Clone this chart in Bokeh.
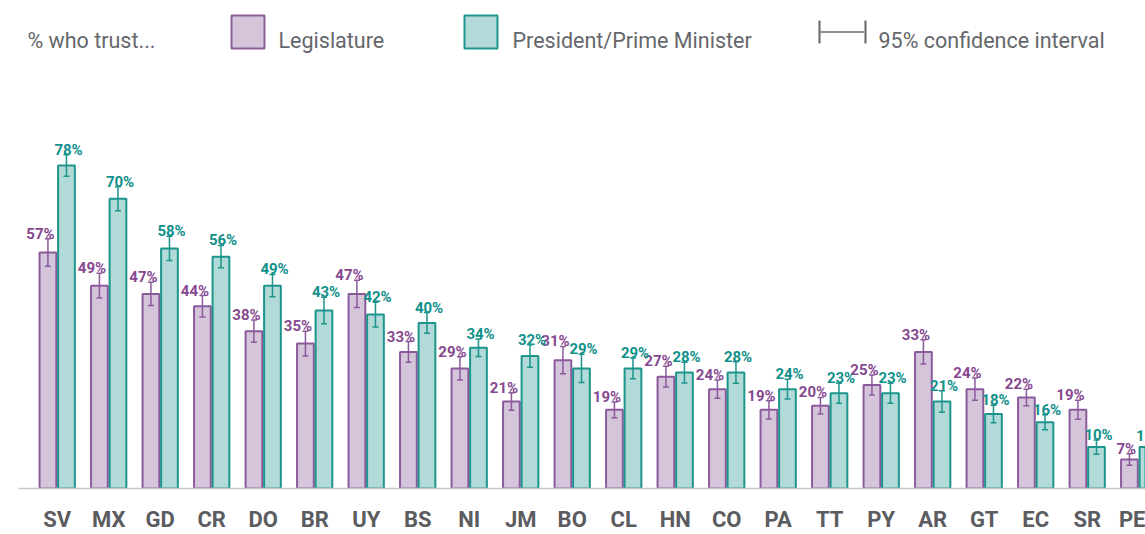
from bokeh.plotting import figure
from bokeh.models import Range1d, FixedTicker, ColumnDataSource, Whisker, TeeHead, Label, BoxAnnotation
from bokeh.embed import file_html
from bokeh.resources import INLINE
from bokeh.core.properties import value

# ---------------- data ----------------
countries = ["SV", "MX", "GD", "CR", "DO", "BR", "UY", "BS", "NI", "JM", "BO",
             "CL", "HN", "CO", "PA", "TT", "PY", "AR", "GT", "EC", "SR", "PE"]
legislature = [57, 49, 47, 44, 38, 35, 47, 33, 29, 21, 31,
               19, 27, 24, 19, 20, 25, 33, 24, 22, 19, 7]
president = [78, 70, 58, 56, 49, 43, 42, 40, 34, 32, 29,
             29, 28, 28, 24, 23, 23, 21, 18, 16, 10, 10]
ci_legislature = [3.3, 3.0, 2.8, 2.6, 2.7, 3.0, 3.3, 2.5, 2.8, 2.1, 3.3,
                  1.9, 2.5, 2.2, 2.2, 2.0, 2.4, 2.9, 2.7, 2.0, 2.3, 1.4]
ci_president = [2.6, 2.9, 2.9, 2.7, 2.7, 3.2, 3.0, 2.5, 2.1, 2.7, 3.4,
                2.5, 2.5, 2.6, 2.4, 2.4, 2.4, 2.6, 2.1, 1.8, 1.7, 1.5]
legend_title = "% who trust..."
legend_labels = ["Legislature", "President/Prime Minister", "95% confidence interval"]

# ---------------- style / layout ----------------
PURPLE_FILL, PURPLE_LINE, PURPLE_TEXT = "#d5c5da", "#8b5a9c", "#86488f"
TEAL_FILL, TEAL_LINE, TEAL_TEXT = "#b1dad8", "#1d948c", "#10908a"
GREY_TEXT = "#5b5c60"
LEGEND_TEXT = "#66676b"

W, H = 1145, 534
LEFT, BOTTOM = 18, 46
STEP = 51.5          # px per category
PX_PER_PCT = 4.14    # px per percentage point
FIRST_CENTER = 38.7  # px from frame left to first category centre
OFF = 0.18           # dodge of each bar from category centre
BAR_W = 0.325

x_start = -FIRST_CENTER / STEP
x_end = (W - LEFT - FIRST_CENTER) / STEP
y_end = (H - BOTTOM) / PX_PER_PCT


def px_x(cx):
    return (cx - LEFT - FIRST_CENTER) / STEP


def px_y(cy):
    return (H - BOTTOM - cy) / PX_PER_PCT


idx = list(range(len(countries)))
src = ColumnDataSource(dict(
    x_leg=[i - OFF for i in idx],
    x_pres=[i + OFF for i in idx],
    x_leg_lab=[i - 0.05 for i in idx],
    x_pres_lab=[i + OFF + 0.04 for i in idx],
    leg=legislature,
    pres=president,
    leg_lo=[v - c for v, c in zip(legislature, ci_legislature)],
    leg_hi=[v + c for v, c in zip(legislature, ci_legislature)],
    pres_lo=[v - c for v, c in zip(president, ci_president)],
    pres_hi=[v + c for v, c in zip(president, ci_president)],
    leg_lab=[f"{v}%" for v in legislature],
    pres_lab=[f"{v}%" for v in president],
))

p = figure(width=W, height=H, x_range=Range1d(x_start, x_end), y_range=Range1d(0, y_end),
           output_backend="svg", toolbar_location=None, y_axis_location=None,
           min_border_left=LEFT, min_border_right=0, min_border_top=0,
           min_border_bottom=BOTTOM)
p.outline_line_color = None
p.xgrid.visible = False
p.ygrid.visible = False
p.background_fill_color = "white"
p.border_fill_color = "white"

# bars
p.vbar(x="x_leg", top="leg", bottom=0, width=BAR_W, fill_color=PURPLE_FILL,
       line_color=PURPLE_LINE, line_width=2, source=src)
p.vbar(x="x_pres", top="pres", bottom=0, width=BAR_W, fill_color=TEAL_FILL,
       line_color=TEAL_LINE, line_width=2, source=src)

# error bars
for base, lo, hi, col in [("x_leg", "leg_lo", "leg_hi", PURPLE_LINE),
                          ("x_pres", "pres_lo", "pres_hi", TEAL_LINE)]:
    w = Whisker(source=src, base=base, lower=lo, upper=hi, line_color=col, line_width=1.5,
                upper_head=TeeHead(size=6, line_color=col, line_width=1.5),
                lower_head=TeeHead(size=6, line_color=col, line_width=1.5),
                level="annotation")
    p.add_layout(w)

# value labels
p.text(x="x_leg_lab", y="leg_hi", text="leg_lab", source=src, text_align="right",
       text_baseline="alphabetic", y_offset=-5, text_font=value("Roboto"),
       text_font_style="bold", text_font_size="15px", text_color=PURPLE_TEXT)
p.text(x="x_pres_lab", y="pres_hi", text="pres_lab", source=src, text_align="center",
       text_baseline="alphabetic", y_offset=-5, text_font=value("Roboto"),
       text_font_style="bold", text_font_size="15px", text_color=TEAL_TEXT)

# x axis
ax = p.xaxis[0]
ax.ticker = FixedTicker(ticks=idx)
ax.major_label_overrides = {i: c for i, c in zip(idx, countries)}
ax.major_tick_line_color = None
ax.major_tick_out = 0
ax.major_tick_in = 0
ax.minor_tick_line_color = None
ax.minor_tick_out = 0
ax.axis_line_color = "#c6c6ce"
ax.axis_line_width = 1.5
ax.major_label_standoff = 18
ax.major_label_text_font = "Roboto"
ax.major_label_text_font_style = "bold"
ax.major_label_text_font_size = "22px"
ax.major_label_text_color = GREY_TEXT

# legend (placed in window pixel positions converted to data units)
LEG_BASE = 39.5
LEG_FONT = "21.5px"
p.add_layout(Label(x=px_x(27), y=px_y(LEG_BASE), text=legend_title, text_font="Roboto",
                   text_font_size=LEG_FONT, text_color=LEGEND_TEXT, text_baseline="alphabetic"))
for (l, r), fill, line, txt, tx in [((231, 264), PURPLE_FILL, PURPLE_LINE, legend_labels[0], 278),
                                    ((464, 497), TEAL_FILL, TEAL_LINE, legend_labels[1], 512)]:
    p.add_layout(BoxAnnotation(left=px_x(l), right=px_x(r), bottom=px_y(48), top=px_y(15),
                               fill_color=fill, fill_alpha=1, line_color=line, line_width=2,
                               line_alpha=1))
    p.add_layout(Label(x=px_x(tx), y=px_y(LEG_BASE), text=txt, text_font="Roboto",
                       text_font_size=LEG_FONT, text_color=LEGEND_TEXT, text_baseline="alphabetic"))
p.segment(x0=[px_x(819), px_x(865), px_x(820)], y0=[px_y(20), px_y(20), px_y(31.5)],
          x1=[px_x(819), px_x(865), px_x(864)], y1=[px_y(43), px_y(43), px_y(31.5)],
          line_color=[LEGEND_TEXT, LEGEND_TEXT, LEGEND_TEXT], line_width=[2, 2, 1.5])
p.add_layout(Label(x=px_x(878), y=px_y(LEG_BASE), text=legend_labels[2], text_font="Roboto",
                   text_font_size=LEG_FONT, text_color=LEGEND_TEXT, text_baseline="alphabetic"))

open("out.html", "w").write(file_html(p, INLINE))
